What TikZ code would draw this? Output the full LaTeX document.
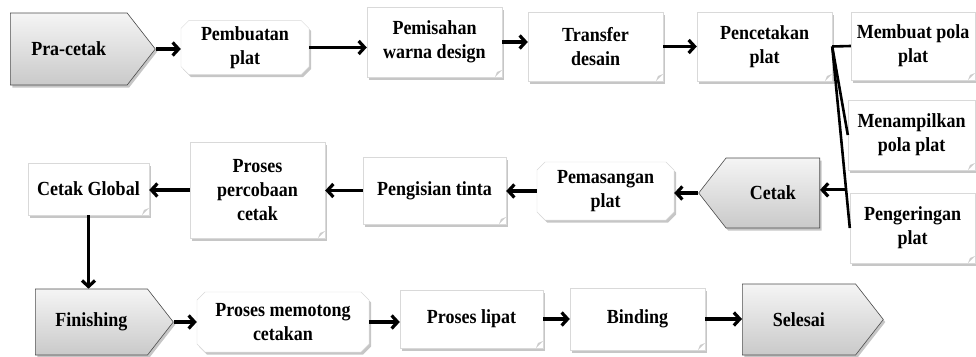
\documentclass[tikz,border=0pt]{standalone}
\usepackage{fontspec}
\setmainfont[FakeStretch=0.9]{Liberation Serif}
\usetikzlibrary{calc,positioning,shapes.symbols,shapes.misc,shadows,arrows.meta}

\begin{document}
\begin{tikzpicture}[
    x=1pt, y=-1pt,
    every node/.style={font=\bfseries\fontsize{20}{24}\selectfont, align=center, inner sep=2pt},
    tahap/.style={signal, signal pointer angle=104, draw=black!70, line width=0.6pt,
        top color=gray!8, bottom color=gray!42,
        drop shadow={shadow xshift=2pt, shadow yshift=-2.5pt, opacity=0.45}},
    kotak/.style={rectangle, draw=gray!30, line width=0.4pt, fill=white,
        drop shadow={shadow xshift=2pt, shadow yshift=-2.5pt, opacity=0.45},
        path picture={
            \fill[white] ([xshift=-7pt]path picture bounding box.south east)
                -- (path picture bounding box.south east)
                -- ([yshift=7pt]path picture bounding box.south east) -- cycle;
            \fill[gray!40] ([xshift=-7pt]path picture bounding box.south east)
                -- ([yshift=7pt]path picture bounding box.south east)
                -- ([xshift=-5pt,yshift=5pt]path picture bounding box.south east) -- cycle;}},
    plak/.style={chamfered rectangle, chamfered rectangle xsep=4pt,
        chamfered rectangle ysep=4pt, draw=gray!30, line width=0.4pt, fill=white,
        drop shadow={shadow xshift=2pt, shadow yshift=-2.5pt, opacity=0.45}},
    panah/.style={draw=black, line width=3.2pt, -{Straight Barb[length=6pt,width=13pt]}},
    garis/.style={draw=black, line width=2.6pt},
]
    \useasboundingbox (0,0) rectangle (976,356);

    % Row 1
    \node[tahap, signal to=east, minimum width=145pt, minimum height=72pt, anchor=west] (pra) at (10,49) {Pra-cetak};
    \node[plak, minimum width=128pt, minimum height=51pt] (pbp) at (245,47.5) {Pembuatan\\plat};
    \node[kotak, minimum width=135pt, minimum height=70pt] (pws) at (434.5,42) {Pemisahan\\warna design};
    \node[kotak, minimum width=135pt, minimum height=69pt] (trf) at (595.5,46.5) {Transfer\\desain};
    \node[kotak, minimum width=135pt, minimum height=69pt] (pct) at (764.5,46.5) {Pencetakan\\plat};

    % Sub steps
    \node[kotak, minimum width=124pt, minimum height=68pt] (mbp) at (913,46) {Membuat pola\\plat};
    \node[kotak, minimum width=127pt, minimum height=70pt] (mpp) at (911.5,135) {Menampilkan\\pola plat};
    \node[kotak, minimum width=125pt, minimum height=70pt] (pgp) at (912.5,228) {Pengeringan\\plat};

    % Row 2
    \node[tahap, signal to=west, minimum width=121pt, minimum height=70pt, anchor=east] (ctk) at (820,193) {Cetak};
    \node[plak, minimum width=137pt, minimum height=58pt] (pmp) at (605.5,191) {Pemasangan\\plat};
    \node[kotak, minimum width=143pt, minimum height=67pt] (pgt) at (434.5,190.5) {Pengisian tinta};
    \node[kotak, minimum width=135pt, minimum height=96pt] (ppc) at (257.5,190) {Proses\\percobaan\\cetak};
    \node[kotak, minimum width=121pt, minimum height=52pt] (cgl) at (88.5,189) {Cetak Global};

    % Row 3
    \node[tahap, signal to=east, minimum width=138pt, minimum height=66pt, anchor=west] (fin) at (35,322) {Finishing};
    \node[plak, minimum width=172pt, minimum height=60pt] (pmc) at (283,322) {Proses memotong\\cetakan};
    \node[kotak, minimum width=143pt, minimum height=58pt] (plp) at (471.5,319) {Proses lipat};
    \node[kotak, minimum width=135pt, minimum height=62pt] (bdg) at (637.5,319) {Binding};
    \node[tahap, signal to=east, minimum width=141pt, minimum height=71pt, anchor=west] (sls) at (742,319.5) {Selesai};

    % Arrows to the right
    \foreach \a/\b in {pra/pbp, pbp/pws, pws/trf, trf/pct,
        fin/pmc, pmc/plp, plp/bdg, bdg/sls}
        \draw[panah] (\a.east) -- (\a.east -| \b.west);
    % Arrows to the left
    \foreach \a/\b in {ctk/pmp, pmp/pgt, pgt/ppc, ppc/cgl}
        \draw[panah] (\a.west) -- (\a.west -| \b.east);

    % Branches
    \foreach \b in {mbp, mpp, pgp}
        \draw[garis] (pct.east) -- (\b.west);
    \coordinate (cabang) at ($(pct.east)!0.79!(pgp.west)$);
    \draw[panah] (cabang) -- (cabang -| ctk.east);
    \draw[panah] (cgl.south) -- (cgl.south |- fin.north);
\end{tikzpicture}
\end{document}
